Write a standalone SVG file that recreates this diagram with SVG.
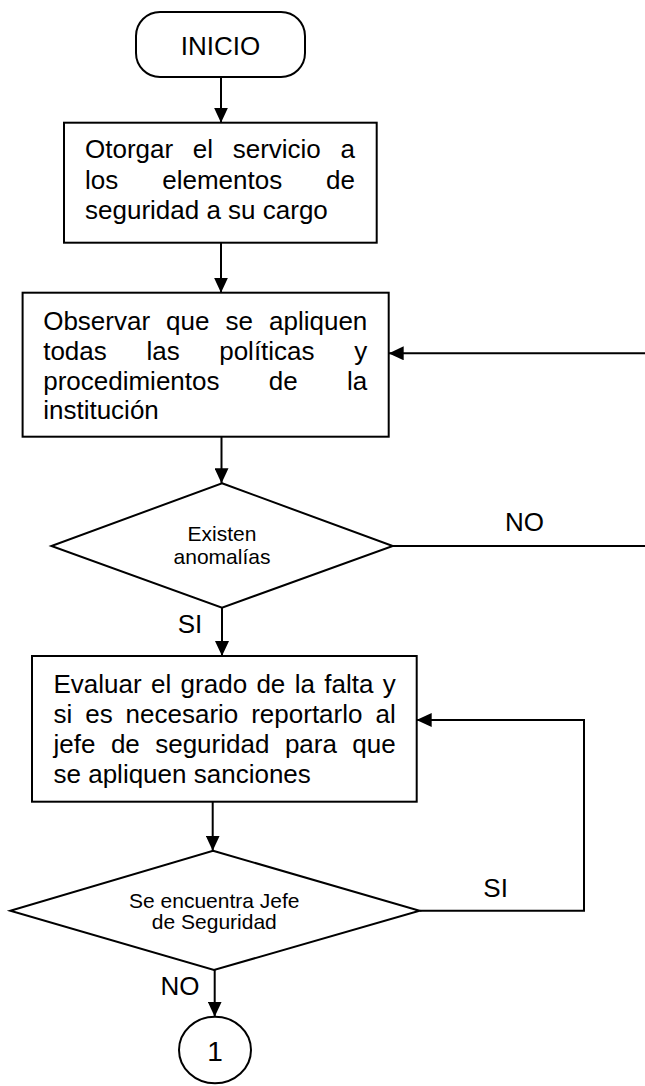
<svg xmlns="http://www.w3.org/2000/svg" width="645" height="1086" viewBox="0 0 645 1086">
<style>
.shape{fill:#fff;stroke:#000;stroke-width:2}
.t{font-family:"Liberation Sans",Arial,sans-serif;font-size:26px;fill:#000}
.ts{font-family:"Liberation Sans",Arial,sans-serif;font-size:21px;fill:#000;text-anchor:middle}
.c{fill:none;stroke:#000;stroke-width:2}
.m{text-anchor:middle}
</style>
<defs>
<marker id="ah" markerUnits="userSpaceOnUse" markerWidth="15" markerHeight="14" refX="15" refY="7" orient="auto">
<path d="M0,0 L15,7 L0,14 Z" fill="#000"/>
</marker>
</defs>
<g id="connectors">
<line class="c" x1="221" y1="77" x2="221" y2="122.7" marker-end="url(#ah)"/>
<line class="c" x1="221" y1="242.7" x2="221" y2="292.7" marker-end="url(#ah)"/>
<line class="c" x1="645" y1="353.3" x2="388.7" y2="353.3" marker-end="url(#ah)"/>
<line class="c" x1="221.5" y1="436.7" x2="221.5" y2="483.3" marker-end="url(#ah)"/>
<line class="c" x1="392.8" y1="546" x2="645" y2="546"/>
<line class="c" x1="222" y1="607.7" x2="222" y2="656" marker-end="url(#ah)"/>
<polyline class="c" points="419.6,910.7 584,910.7 584,720 416.7,720" marker-end="url(#ah)"/>
<line class="c" x1="212.7" y1="801.7" x2="212.7" y2="850.7" marker-end="url(#ah)"/>
<line class="c" x1="214.7" y1="970" x2="214.7" y2="1016.7" marker-end="url(#ah)"/>
<text class="t" x="505" y="531">NO</text>
<text class="t" x="177.7" y="632.7">SI</text>
<text class="t" x="483.3" y="896.7">SI</text>
<text class="t" x="160.4" y="995">NO</text>
</g>
<g id="inicio">
<rect class="shape" x="136" y="12" width="169" height="65" rx="24" ry="24"/>
<text class="t m" x="220.5" y="55">INICIO</text>
</g>
<g id="box1">
<rect class="shape" x="64" y="122.7" width="312.7" height="120"/>
<text class="t" y="158.3"><tspan x="85">Otorgar</tspan><tspan x="192.8">el</tspan><tspan x="232.7">servicio</tspan><tspan x="355" text-anchor="end">a</tspan></text>
<text class="t" y="189"><tspan x="85">los</tspan><tspan x="162.2">elementos</tspan><tspan x="355" text-anchor="end">de</tspan></text>
<text class="t" x="85" y="219.3">seguridad a su cargo</text>
</g>
<g id="box2">
<rect class="shape" x="22.6" y="292.7" width="366.1" height="144"/>
<text class="t" y="330"><tspan x="43.2">Observar</tspan><tspan x="166.1">que</tspan><tspan x="225.5">se</tspan><tspan x="367.3" text-anchor="end">apliquen</tspan></text>
<text class="t" y="360"><tspan x="43.2">todas</tspan><tspan x="146.4">las</tspan><tspan x="219.2">políticas</tspan><tspan x="367.3" text-anchor="end">y</tspan></text>
<text class="t" y="389.5"><tspan x="43.2">procedimientos</tspan><tspan x="268.8">de</tspan><tspan x="367.3" text-anchor="end">la</tspan></text>
<text class="t" x="43.2" y="418.5">institución</text>
</g>
<g id="decision1">
<polygon class="shape" points="222,483.3 392.8,546 222,607.7 51.4,546"/>
<text class="ts" x="222" y="541">Existen</text>
<text class="ts" x="222" y="564">anomalías</text>
</g>
<g id="box3">
<rect class="shape" x="32" y="656" width="384.7" height="145.7"/>
<text class="t" y="692.7"><tspan x="53.5">Evaluar</tspan><tspan x="151">el</tspan><tspan x="180.6">grado</tspan><tspan x="256.4">de</tspan><tspan x="294.7">la</tspan><tspan x="324.3">falta</tspan><tspan x="395.7" text-anchor="end">y</tspan></text>
<text class="t" y="722.7"><tspan x="53.5">si</tspan><tspan x="85.2">es</tspan><tspan x="125.6">necesario</tspan><tspan x="251.2">reportarlo</tspan><tspan x="395.7" text-anchor="end">al</tspan></text>
<text class="t" y="752.7"><tspan x="53.5">jefe</tspan><tspan x="110.9">de</tspan><tspan x="155.2">seguridad</tspan><tspan x="284.9">para</tspan><tspan x="395.7" text-anchor="end">que</tspan></text>
<text class="t" x="53.5" y="782.7">se apliquen sanciones</text>
</g>
<g id="decision2">
<polygon class="shape" points="213,850.7 419.6,910.7 214,970 10.3,910.7"/>
<text class="ts" x="214.3" y="907.5">Se encuentra Jefe</text>
<text class="ts" x="214.3" y="929">de Seguridad</text>
</g>
<g id="connector1">
<ellipse class="shape" cx="215" cy="1050" rx="36" ry="33.3"/>
<text class="t m" x="215" y="1061" style="font-size:28px">1</text>
</g>
</svg>
